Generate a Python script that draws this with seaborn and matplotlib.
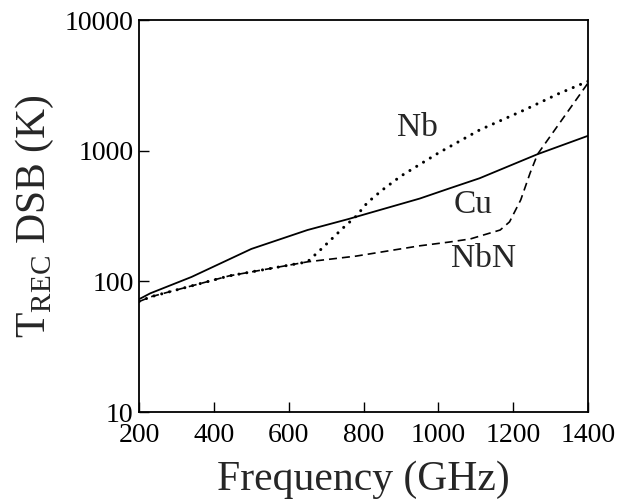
import numpy as np
import pandas as pd
import seaborn as sns
import matplotlib.pyplot as plt

# receiver noise temperature vs frequency
cu_freq = [200, 230, 340, 500, 650, 760, 810, 950, 1030, 1110, 1265, 1400]
cu_temp = [73, 81, 108, 177, 247, 300, 330, 430, 515, 615, 940, 1300]

nbn_freq = [200, 230, 440, 650, 780, 950, 1030, 1085, 1165, 1190, 1220, 1245, 1265, 1400]
nbn_temp = [70, 76, 110, 141, 156, 187, 200, 211, 247, 285, 420, 674, 940, 3300]

nb_freq = [200, 230, 440, 650, 690, 745, 780, 810, 850, 900, 1000, 1110, 1230, 1320, 1400]
nb_temp = [70, 76, 110, 141, 180, 256, 315, 400, 500, 640, 960, 1440, 2050, 2720, 3400]

x_ticks = [200, 400, 600, 800, 1000, 1200, 1400]
y_ticks = [10, 100, 1000, 10000]

sns.set_style('ticks')
plt.rcParams['font.family'] = ['Liberation Serif', 'DejaVu Serif']
plt.rcParams['mathtext.fontset'] = 'custom'
plt.rcParams['mathtext.rm'] = 'Liberation Serif'

fig = plt.figure(figsize=(6.21, 5.0), dpi=100)
ax = fig.add_axes([0.224, 0.176, 0.723, 0.784])

cu = pd.DataFrame({'f': cu_freq, 'T': cu_temp})
nbn = pd.DataFrame({'f': nbn_freq, 'T': nbn_temp})
nb = pd.DataFrame({'f': nb_freq, 'T': nb_temp})

sns.lineplot(data=cu, x='f', y='T', ax=ax, color='black', lw=1.3)
sns.lineplot(data=nbn, x='f', y='T', ax=ax, color='black', lw=1.2,
             linestyle=(0, (4.8, 3.0)))
sns.lineplot(data=nb, x='f', y='T', ax=ax, color='black', lw=2.2,
             linestyle=(0, (0.01, 2.6)), dash_capstyle='round')

ax.set_yscale('log')
ax.set_xlim(200, 1400)
ax.set_ylim(10, 10000)
ax.set_xticks(x_ticks)
ax.set_xticklabels([str(v) for v in x_ticks])
ax.set_yticks(y_ticks)
ax.set_yticklabels([str(v) for v in y_ticks])
ax.minorticks_off()
ax.tick_params(axis='both', direction='in', length=7, width=1, labelsize=20, colors='black')
ax.tick_params(axis='x', pad=8)
ax.tick_params(axis='y', pad=4)
for s in ax.spines.values():
    s.set_linewidth(1.3)
    s.set_color('black')

ax.set_xlabel('Frequency (GHz)', fontsize=30, labelpad=9)
ax.set_ylabel(r'T$_{\rm REC}$ DSB (K)', fontsize=30, labelpad=6)

ax.text(945, 1500, 'Nb', fontsize=24, ha='center', va='center')
ax.text(1093, 384, 'Cu', fontsize=24, ha='center', va='center')
ax.text(1120, 148, 'NbN', fontsize=24, ha='center', va='center')

plt.savefig('out.png', dpi=100)
